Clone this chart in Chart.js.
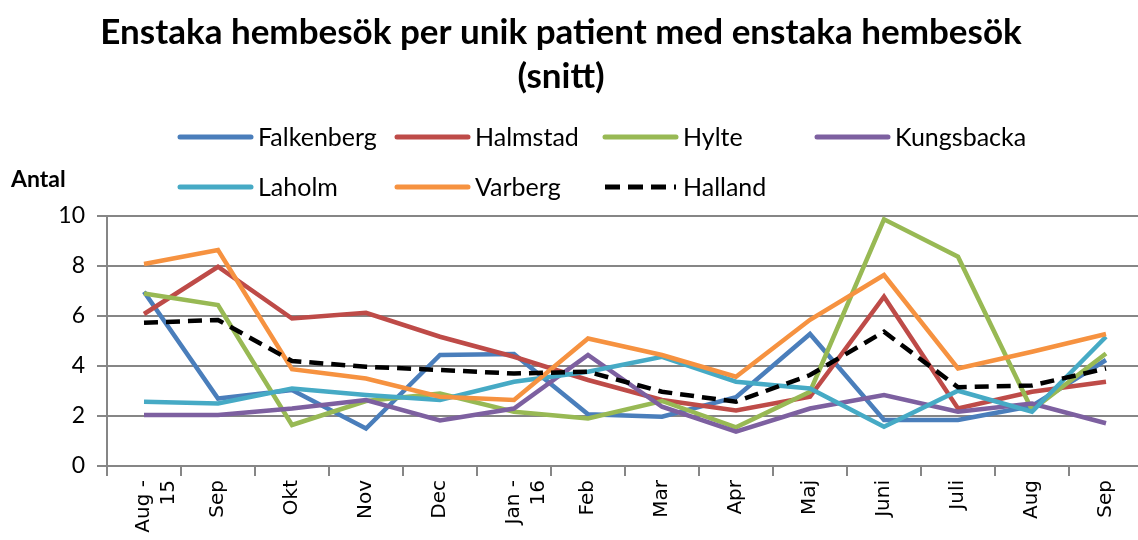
<!DOCTYPE html>
<html>
<head>
<meta charset="utf-8">
<script src="https://cdn.jsdelivr.net/npm/chart.js@4"></script>
<style>
  html, body { margin: 0; padding: 0; background: #fff; overflow: hidden; }
  #wrap { width: 1146px; height: 540px; }
</style>
</head>
<body>
<div id="wrap"><canvas id="chart" width="1146" height="540"></canvas></div>
<script>
const months = [["Aug -", "15"], "Sep", "Okt", "Nov", "Dec", ["Jan -", "16"], "Feb", "Mar", "Apr", "Maj", "Juni", "Juli", "Aug", "Sep"];
const yTicks = [0, 2, 4, 6, 8, 10];

const falkenberg = [6.97, 2.7, 3.04, 1.5, 4.44, 4.48, 2.07, 1.97, 2.75, 5.28, 1.84, 1.84, 2.4, 4.24];
const halmstad   = [6.08, 7.97, 5.9, 6.13, 5.17, 4.37, 3.44, 2.64, 2.22, 2.77, 6.77, 2.3, 2.97, 3.37];
const hylte      = [6.9, 6.44, 1.64, 2.6, 2.9, 2.17, 1.9, 2.6, 1.55, 2.97, 9.87, 8.37, 2.24, 4.5];
const kungsbacka = [2.04, 2.04, 2.3, 2.64, 1.82, 2.3, 4.44, 2.37, 1.37, 2.3, 2.84, 2.17, 2.5, 1.71];
const laholm     = [2.57, 2.5, 3.1, 2.84, 2.64, 3.37, 3.77, 4.37, 3.37, 3.1, 1.57, 3.01, 2.17, 5.17];
const varberg    = [8.08, 8.64, 3.87, 3.5, 2.77, 2.64, 5.1, 4.44, 3.57, 5.85, 7.64, 3.9, 4.57, 5.28];
const halland    = [5.73, 5.84, 4.2, 3.97, 3.84, 3.7, 3.77, 2.97, 2.57, 3.64, 5.37, 3.15, 3.22, 3.9];

const seriesNames = ["Falkenberg", "Halmstad", "Hylte", "Kungsbacka", "Laholm", "Varberg", "Halland"];
const seriesData = [falkenberg, halmstad, hylte, kungsbacka, laholm, varberg, halland];
const seriesColors = ["#4A7EBB", "#BE4B48", "#98B954", "#7D60A0", "#46AAC5", "#F69240", "#000000"];

const titleLines = ["Enstaka hembesök per unik patient med enstaka hembesök", "(snitt)"];

const datasets = seriesNames.map((name, i) => ({
  label: name,
  data: seriesData[i],
  borderColor: seriesColors[i],
  backgroundColor: seriesColors[i],
  borderWidth: 4.5,
  borderDash: name === "Halland" ? [14, 8] : [],
  pointRadius: 0,
  tension: 0,
  fill: false,
  order: seriesNames.length - i
}));

// title, legend and axis caption drawn straight on the canvas
const decor = {
  id: "decor",
  afterDraw(chart) {
    const ctx = chart.ctx;
    ctx.save();
    ctx.fillStyle = "#000";
    ctx.textBaseline = "middle";
    ctx.textAlign = "center";
    ctx.font = "bold 35px Lato";
    titleLines.forEach((t, i) => ctx.fillText(t, 561, 33 + i * 44));

    ctx.textAlign = "left";
    ctx.font = "bold 23px Lato";
    ctx.fillText("Antal", 11, 180);

    const colX = [180, 397, 605, 817];
    const rowY = [137, 187];
    ctx.font = "25px Lato";
    seriesNames.forEach((name, i) => {
      const x = colX[i % 4];
      const y = rowY[Math.floor(i / 4)];
      ctx.strokeStyle = seriesColors[i];
      ctx.lineWidth = 5;
      ctx.lineCap = name === "Halland" ? "butt" : "round";
      ctx.setLineDash(name === "Halland" ? [15, 8] : []);
      ctx.beginPath();
      ctx.moveTo(x, y);
      ctx.lineTo(x + 71, y);
      ctx.stroke();
      ctx.fillText(name, x + 78, y + 1);
    });
    ctx.restore();
  }
};

new Chart(document.getElementById("chart"), {
  type: "line",
  data: { labels: months, datasets: datasets },
  plugins: [decor],
  options: {
    responsive: false,
    animation: false,
    layout: { padding: { top: 216, left: 0, right: 3, bottom: 0 } },
    plugins: {
      legend: { display: false },
      title: { display: false },
      tooltip: { enabled: false }
    },
    scales: {
      y: {
        min: 0,
        max: 10,
        afterBuildTicks(scale) { scale.ticks = yTicks.map(v => ({ value: v })); },
        afterFit(scale) { scale.width = 107; },
        border: { color: "#868686", width: 2 },
        grid: { color: "#868686", lineWidth: 2, tickLength: 10 },
        ticks: { color: "#000", font: { family: "Lato", size: 23 }, padding: 12 }
      },
      x: {
        offset: true,
        afterFit(scale) { scale.height = 74; },
        border: { color: "#868686", width: 2 },
        grid: { offset: true, drawOnChartArea: false, drawTicks: true, tickLength: 10, color: "#868686", lineWidth: 2 },
        ticks: {
          color: "#000",
          font: { family: "DejaVu Sans", size: 20, lineHeight: 1.25 },
          minRotation: 90,
          maxRotation: 90,
          padding: 4,
          autoSkip: false
        }
      }
    }
  }
});
</script>
</body>
</html>
